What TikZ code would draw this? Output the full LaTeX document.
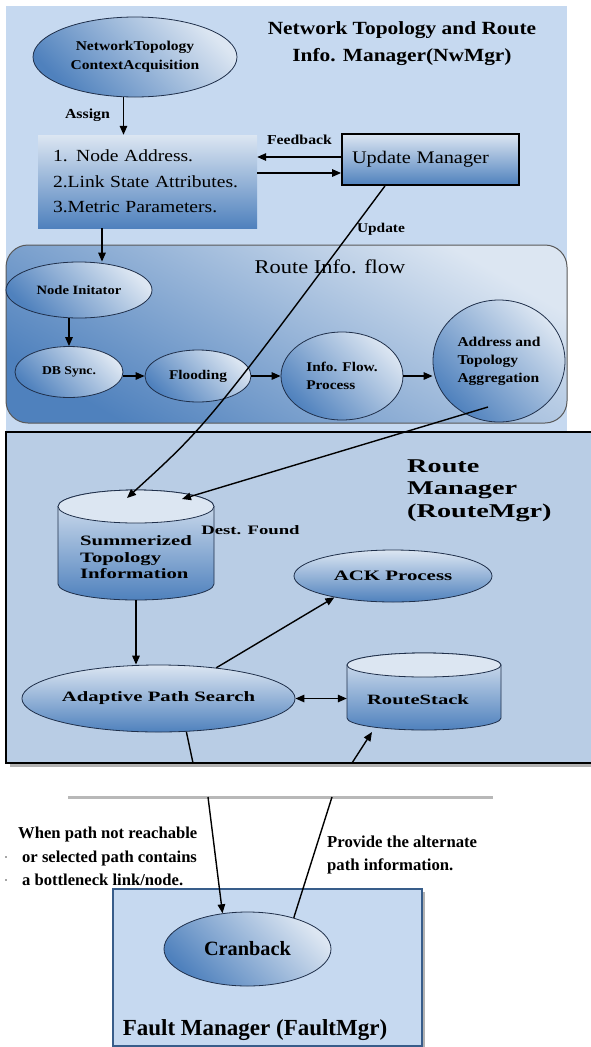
\documentclass[tikz,border=0pt]{standalone}
\usepackage{fontspec}
\setmainfont{Liberation Serif}
\newfontfamily\topserif{Liberation Serif}[FakeStretch=1.15]
\newfontfamily\midserif{Liberation Serif}[FakeStretch=1.45]
\usetikzlibrary{shapes.geometric,arrows.meta}
\definecolor{lite}{HTML}{DCE6F2}
\definecolor{deep}{HTML}{4F81BD}
\definecolor{panel}{HTML}{C6D9F0}
\definecolor{routebg}{HTML}{B9CDE5}
\definecolor{edge}{HTML}{1F2F4A}
\definecolor{faultedge}{HTML}{385D8A}
\newcommand{\fsz}[2]{\fontsize{#1pt}{#2pt}\selectfont}

\begin{document}
\begin{tikzpicture}[x=1pt,y=1pt,
  arr/.style={line width=1.4pt,-{Triangle[length=9pt,width=7.5pt]}},
  wire/.style={line width=1.4pt},
  both/.style={line width=1.4pt,{Triangle[length=9pt,width=7.5pt]}-{Triangle[length=9pt,width=7.5pt]}},
  shadeoval/.style={ellipse,draw=edge,line width=0.8pt,inner sep=0pt,top color=lite,bottom color=deep,shading angle=-45},
  vertoval/.style={ellipse,draw=edge,line width=0.8pt,inner sep=0pt,top color=lite,bottom color=deep},
  drum/.style={draw=edge,line width=0.8pt,top color=lite,bottom color=deep},
  drumtop/.style={draw=edge,line width=0.8pt,fill=lite},
  tag/.style={inner sep=0pt},
]
\useasboundingbox (0,0) rectangle (591,-1047);
\fill[white] (0,0) rectangle (591,-1047);

% ---------------- NwMgr panel ----------------
\fill[panel] (6,-6) rectangle (567,-432);
\node[align=center,font=\topserif\bfseries\fsz{18.6}{27}] (ttl) at (402,-44)
  {Network Topology and Route\\Info. Manager(NwMgr)};

\node[shadeoval,minimum width=204pt,minimum height=80pt,align=center,
      font=\topserif\bfseries\fsz{13.5}{19}] (ntc) at (135,-57)
  {NetworkTopology\\ContextAcquisition};

\node[rectangle,top color=lite,bottom color=deep,minimum height=93pt,text width=189pt,
      inner xsep=15pt,inner ysep=0pt,align=left,font=\topserif\fsz{17}{25.5}] (lst) at (147.5,-181.5)
  {1. Node Address.\\2.Link State Attributes.\\3.Metric Parameters.};

\node[rectangle,draw=black,line width=1.8pt,top color=lite,bottom color=deep,minimum height=51pt,
      text width=157pt,inner xsep=10pt,align=left,font=\topserif\fsz{17.7}{20}] (upm) at (430.5,-159.5)
  {Update Manager};

\draw[arr] (ntc.254) -- (ntc.254 |- lst.north);
\node[tag,font=\topserif\bfseries\fsz{13.8}{16}] (asg) at (87.5,-115) {Assign};

\coordinate (fbk) at ([yshift=2.5pt]upm.west);
\coordinate (lnk) at ([yshift=-13.5pt]upm.west);
\draw[arr] (fbk) -- (fbk -| lst.east);
\draw[arr] (lnk -| lst.east) -- (lnk);
\node[tag,font=\topserif\bfseries\fsz{13.7}{16}] (fbl) at (299.5,-140) {Feedback};

% ---------------- Route info flow ----------------
\node[draw=black!65,line width=1pt,rounded corners=22pt,minimum width=561pt,minimum height=178pt,
      top color=lite,bottom color=deep,shading angle=-30] (rif) at (286.5,-334) {};
\node[tag,font=\topserif\fsz{19.5}{22}] (rifl) at (330,-267) {Route Info. flow};

\node[shadeoval,minimum width=146pt,minimum height=56pt,font=\topserif\bfseries\fsz{12.7}{15}] (nin) at (79,-290) {Node Initator};
\node[shadeoval,minimum width=108pt,minimum height=51pt,font=\topserif\bfseries\fsz{11.9}{14}] (dbs) at (69,-372) {DB Sync.};
\node[shadeoval,minimum width=106pt,minimum height=52pt,font=\topserif\bfseries\fsz{13.3}{16}] (fld) at (198,-376) {Flooding};
\node[shadeoval,minimum width=122pt,minimum height=88pt,align=left,font=\topserif\bfseries\fsz{13.3}{18}] (ifp) at (342,-376) {Info. Flow.\\Process};
\node[shadeoval,minimum width=132pt,minimum height=122pt,align=left,font=\topserif\bfseries\fsz{13.5}{18}] (adr) at (499,-361) {Address and\\Topology\\Aggregation};

\coordinate (lstout) at ([xshift=-45.5pt]lst.south);
\draw[arr] (lstout) -- (lstout |- nin.north);
\draw[arr] (nin.south -| dbs.north) -- (dbs.north);
\draw[arr] (fld.west -| dbs.east) -- (fld.west);
\draw[arr] (fld.east) -- (ifp.west);
\draw[arr] (ifp.east) -- (ifp.east -| adr.west);

% ---------------- Route manager ----------------
\fill[black!30] (10,-436) rectangle (591,-767);
\fill[routebg] (6,-432) rectangle (591,-763);
\draw[line width=1.2pt] (591,-432) -- (6,-432) -- (6,-763) -- (591,-763);

\node[tag,anchor=west,align=left,font=\midserif\bfseries\fsz{19.5}{22.5}] (rmt) at (407,-490.5)
  {Route\\Manager\\(RouteMgr)};

% summarized topology store
\path[drum] (58,-506.5) -- (58,-584) arc[start angle=180,end angle=360,x radius=78,y radius=16]
  -- (214,-506.5) arc[start angle=0,end angle=180,x radius=78,y radius=16.5] -- cycle;
\path[drumtop] (136,-506.5) ellipse[x radius=78,y radius=16.5];
\node[minimum width=156pt,minimum height=110pt,inner sep=0pt] (sti) at (136,-545) {};
\node[tag,align=left,font=\midserif\bfseries\fsz{14.3}{16.5}] (stit) at (136,-557.5)
  {Summerized\\Topology\\Information};

\node[tag,font=\midserif\bfseries\fsz{12.9}{15}] (dsf) at (250.5,-530) {Dest. Found};

\node[vertoval,minimum width=198pt,minimum height=52pt,font=\midserif\bfseries\fsz{14.4}{16}] (ack) at (393,-576) {ACK Process};
\node[vertoval,minimum width=267pt,minimum height=67pt,font=\midserif\bfseries\fsz{14.3}{16}] (aps) at (158.5,-698.5) {Adaptive Path Search};

% route stack store
\path[drum] (347,-665) -- (347,-718) arc[start angle=180,end angle=360,x radius=77,y radius=12]
  -- (501,-665) arc[start angle=0,end angle=180,x radius=77,y radius=12] -- cycle;
\path[drumtop] (424,-665) ellipse[x radius=77,y radius=12];
\node[minimum width=154pt,minimum height=77pt,inner sep=0pt] (rst) at (424,-691.5) {};
\node[tag,font=\midserif\bfseries\fsz{14.2}{16}] (rstt) at (418,-700) {RouteStack};

% links into the summarized store
\coordinate (updsrc) at ([xshift=-45.5pt]upm.south);
\coordinate (stiin) at (127,-498);
\draw[arr] (updsrc) .. controls (207,-425) .. (stiin);
\node[tag,font=\topserif\bfseries\fsz{13.4}{16}] (updl) at (381,-229) {Update};

\coordinate (adrsrc) at ([shift={(-11pt,-46pt)}]adr.center);
\coordinate (stiin2) at (182,-499);
\draw[arr] (adrsrc) -- (stiin2);

\draw[arr] (sti.south) -- (sti.south |- aps.north);
\draw[arr] (aps.28) -- (ack.200);
\draw[both] (aps.east) -- (aps.east -| rst.west);

\coordinate (brk1) at (193,-763);
\coordinate (brk2) at (352,-763);
\coordinate (rstin) at (372,-732);
\draw[wire] (aps.-50) -- (brk1);
\draw[arr] (brk2) -- (rstin);

% ---------------- Fault manager ----------------
\draw[black!28,line width=3pt] (68,-797) -- (493,-797);
\coordinate (res1) at (208,-797);
\coordinate (res2) at (332,-797);

\fill[black!30] (116,-892) rectangle (425,-1047);
\node[draw=faultedge,line width=1.2pt,fill=panel,minimum width=309pt,minimum height=157pt,inner sep=0pt] (fmg) at (267.5,-967.5) {};
\node[shadeoval,minimum width=167pt,minimum height=74pt,font=\bfseries\fsz{20.3}{24}] (crb) at (247.5,-949) {Cranback};
\node[tag,font=\bfseries\fsz{23}{26}] (fml) at (255,-1030) {Fault Manager (FaultMgr)};

\draw[arr] (res1) -- (crb.125);
\draw[wire] (crb.34) -- (res2);

\node[tag,anchor=west,align=left,font=\bfseries\fsz{16.6}{23.5}] (why) at (18,-856.5)
  {When path not reachable\\\hspace*{4pt}or selected path contains\\\hspace*{4pt}a bottleneck link/node.};
\node[tag,anchor=west,align=left,font=\bfseries\fsz{16.7}{23}] (alt) at (327,-855)
  {Provide the alternate\\path information.};
\fill[black!70] (6,-857) circle (0.9);
\fill[black!70] (6,-880) circle (0.9);
\end{tikzpicture}
\end{document}
